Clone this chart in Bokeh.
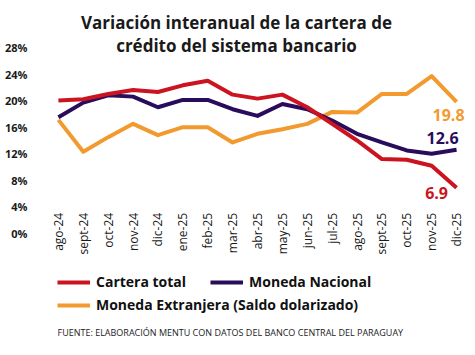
from math import pi
from bokeh.plotting import figure
from bokeh.models import (Range1d, FixedTicker, Legend, LegendItem, Label, ColumnDataSource, LinearAxis)
from bokeh.embed import file_html
from bokeh.resources import INLINE

months = ["ago-24", "sept-24", "oct-24", "nov-24", "dic-24", "ene-25", "feb-25", "mar-25",
          "abr-25", "may-25", "jun-25", "jul-25", "ago-25", "sept-25", "oct-25", "nov-25", "dic-25"]
cartera_total = [20.0, 20.2, 21.0, 21.6, 21.3, 22.3, 23.0, 20.9, 20.3, 20.9, 19.0, 16.5, 14.0, 11.2, 11.1, 10.2, 6.9]
moneda_nacional = [17.5, 19.7, 20.8, 20.6, 19.0, 20.1, 20.1, 18.7, 17.7, 19.5, 18.7, 17.0, 15.0, 13.7, 12.5, 12.0, 12.6]
moneda_extranjera = [17.1, 12.3, 14.5, 16.5, 14.8, 16.0, 16.0, 13.7, 15.0, 15.7, 16.5, 18.3, 18.2, 21.0, 21.0, 23.7, 19.8]
y_ticks = [0, 4, 8, 12, 16, 20, 24, 28]

RED = "#cc1420"
PURPLE = "#2a0c5c"
ORANGE = "#f29a2e"
FONT = "Open Sans"

idx = list(range(len(months)))
src = ColumnDataSource(dict(x=idx, ct=cartera_total, mn=moneda_nacional, me=moneda_extranjera))

p = figure(width=475, height=355, output_backend="svg", toolbar_location=None,
           x_range=Range1d(-0.72, 16.56), y_range=Range1d(-18.37, 35.07),
           x_axis_location=None,
           min_border_left=40, min_border_right=5, min_border_top=0, min_border_bottom=0)
p.outline_line_color = None
p.background_fill_color = "white"
p.border_fill_color = "white"
p.xgrid.visible = False
p.ygrid.visible = False

r_me = p.line("x", "me", source=src, line_color=ORANGE, line_width=4, line_join="round")
r_mn = p.line("x", "mn", source=src, line_color=PURPLE, line_width=4, line_join="round")
r_ct = p.line("x", "ct", source=src, line_color=RED, line_width=4, line_join="round")

# x axis placed just under the 0% level
xax = LinearAxis(fixed_location=2.5, ticker=FixedTicker(ticks=idx),
                 major_label_overrides={i: m for i, m in enumerate(months)},
                 major_label_orientation=pi / 2, major_label_standoff=-10)
p.add_layout(xax, "below")

p.yaxis.ticker = FixedTicker(ticks=y_ticks)
p.yaxis.major_label_overrides = {v: f"{v}%" for v in y_ticks}
p.yaxis.major_label_standoff = 7
for ax in (xax, p.yaxis[0]):
    ax.axis_line_color = None
    ax.major_tick_line_color = None
    ax.minor_tick_line_color = None
    ax.major_label_text_font = FONT
    ax.major_label_text_color = "#1a1a1a"
xax.major_label_text_font_size = "12px"
p.yaxis.major_label_text_font_size = "11px"
p.yaxis.major_label_text_font_style = "bold"

# title (frame spans full height: y in screen px from bottom)
for text, ty in (("Variación interanual de la cartera de", 333), ("crédito del sistema bancario", 310)):
    p.add_layout(Label(x=196, y=ty, x_units="screen", y_units="screen", text=text,
                       text_align="center", text_baseline="middle", text_font=FONT,
                       text_font_size="17px", text_font_style="bold", text_color="#1a1a1a"))

# end labels
for vals, col, xo, yo in ((moneda_extranjera, ORANGE, -8, -13), (moneda_nacional, PURPLE, -14, 12),
                          (cartera_total, RED, -20, -5)):
    p.add_layout(Label(x=idx[-1], y=vals[-1], text=f"{vals[-1]}", x_offset=xo, y_offset=yo,
                       text_align="center", text_baseline="middle", text_font=FONT,
                       text_font_size="16px", text_font_style="bold", text_color=col))

# legends
def mk_legend(items, loc):
    lg = Legend(items=items, location=loc, orientation="horizontal", padding=0, margin=0,
                spacing=24, glyph_width=33, glyph_height=14, label_height=14, label_standoff=6,
                label_text_font=FONT, label_text_font_size="14px", label_text_font_style="bold",
                label_text_color="#111111", border_line_color=None, background_fill_alpha=0)
    p.add_layout(lg, "center")
    return lg

mk_legend([LegendItem(label="Cartera total", renderers=[r_ct]),
           LegendItem(label="Moneda Nacional", renderers=[r_mn])], (17, 64))
mk_legend([LegendItem(label="Moneda Extranjera (Saldo dolarizado)", renderers=[r_me])], (17, 41))

p.add_layout(Label(x=17, y=23, x_units="screen", y_units="screen",
                   text="FUENTE: ELABORACIÓN MENTU CON DATOS DEL BANCO CENTRAL DEL PARAGUAY",
                   text_baseline="middle", text_font=FONT, text_font_size="9px", text_color="#222222"))

open("out.html", "w").write(file_html(p, INLINE))
